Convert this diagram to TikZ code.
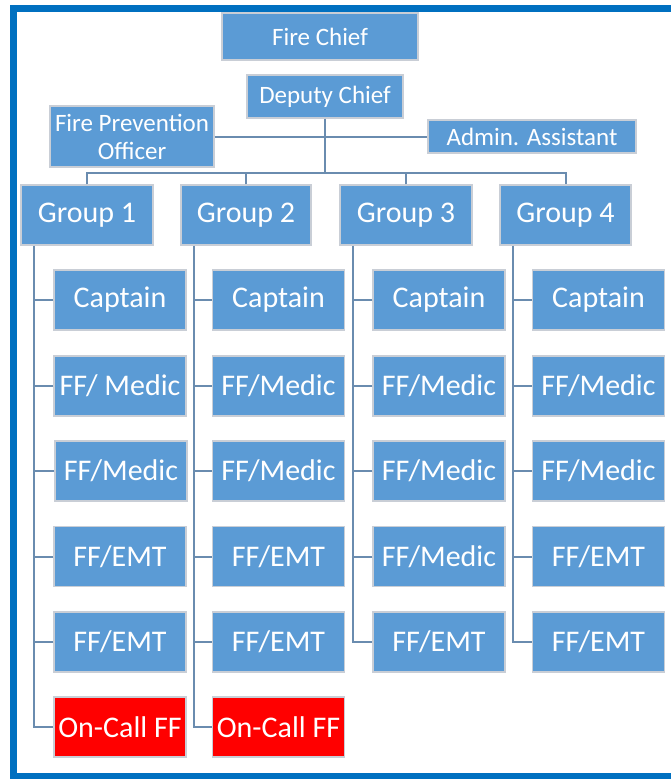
\documentclass[tikz,border=0pt]{standalone}
\usepackage{fontspec}
\setmainfont{Carlito}
\definecolor{boxblue}{HTML}{5B9BD5}
\definecolor{framblue}{HTML}{0070C0}
\definecolor{linecol}{HTML}{6A8CAF}
\definecolor{boxedge}{HTML}{C9CED6}
\begin{document}
\begin{tikzpicture}[x=1pt,y=-1pt,
  orgbox/.style={rectangle,fill=boxblue,draw=boxedge,line width=1.2pt,text=white,inner sep=0pt,align=center},
  topbox/.style={orgbox,font=\fontsize{25}{28}\selectfont},
  grpbox/.style={orgbox,minimum height=60pt,font=\fontsize{30}{32}\selectfont},
  subbox/.style={orgbox,minimum width=132pt,minimum height=60pt,font=\fontsize{30}{32}\selectfont},
  redbox/.style={subbox,fill=red},
  conn/.style={draw=linecol,line width=2pt}]
\useasboundingbox (0,0) rectangle (671,779);
\fill[white] (0,0) rectangle (671,779);
% frame
\draw[framblue,line width=7pt] (671,8) -- (13,8) -- (13,776) -- (671,776);
% top
\node[topbox,minimum width=196pt,minimum height=47pt] (chief) at (320,36.5) {Fire Chief};
\node[topbox,minimum width=156pt,minimum height=43pt] (dep) at (325,96.5) {Deputy Chief};
\node[topbox,minimum width=164pt,minimum height=61pt] (fpo) at (132,136.5) {Fire Prevention\\Officer};
\node[topbox,minimum width=208pt,minimum height=33pt] (aa) at (532,136.5) {Admin. Assistant};
% groups
\node[grpbox,minimum width=132pt] (g1) at (87,215) {Group 1};
\node[grpbox,minimum width=130pt] (g2) at (246,215) {Group 2};
\node[grpbox,minimum width=132pt] (g3) at (406,215) {Group 3};
\node[grpbox,minimum width=131pt] (g4) at (565.5,215) {Group 4};
% column 1
\node[subbox] (a1) at (120,300) {Captain};
\node[subbox] (a2) at (120,386) {FF/ Medic};
\node[subbox] (a3) at (121,471) {FF/Medic};
\node[subbox] (a4) at (120,556.5) {FF/EMT};
\node[subbox] (a5) at (120,642) {FF/EMT};
\node[redbox] (a6) at (120,727) {On-Call FF};
% column 2
\node[subbox] (b1) at (278.5,300) {Captain};
\node[subbox] (b2) at (278.5,386) {FF/Medic};
\node[subbox] (b3) at (278.5,471) {FF/Medic};
\node[subbox] (b4) at (278.5,556.5) {FF/EMT};
\node[subbox] (b5) at (278.5,642) {FF/EMT};
\node[redbox] (b6) at (278.5,727) {On-Call FF};
% column 3
\node[subbox] (c1) at (439,300) {Captain};
\node[subbox] (c2) at (439,386) {FF/Medic};
\node[subbox] (c3) at (439,471) {FF/Medic};
\node[subbox] (c4) at (439,556.5) {FF/Medic};
\node[subbox] (c5) at (439,642) {FF/EMT};
% column 4
\node[subbox] (d1) at (598.5,300) {Captain};
\node[subbox] (d2) at (598.5,386) {FF/Medic};
\node[subbox] (d3) at (598.5,471) {FF/Medic};
\node[subbox] (d4) at (598.5,556.5) {FF/EMT};
\node[subbox] (d5) at (598.5,642) {FF/EMT};
% coordinates
\coordinate (bus) at (0,173);
\coordinate (v1) at (34,245.6);
\coordinate (v2) at (194,245.6);
\coordinate (v3) at (353,245.6);
\coordinate (v4) at (513,245.6);
% connectors top
\draw[conn] (fpo.east) -- (aa.west);
\draw[conn] (dep.south) -- (dep.south |- bus);
\draw[conn] (g1.north) -- (g1.north |- bus) -- (g4.north |- bus) -- (g4.north);
\draw[conn] (g2.north) -- (g2.north |- bus);
\draw[conn] (g3.north) -- (g3.north |- bus);
% columns
\draw[conn] (v1) |- (a6.west);
\foreach \n in {a1,a2,a3,a4,a5} \draw[conn] (\n.west) -- (\n.west -| v1);
\draw[conn] (v2) |- (b6.west);
\foreach \n in {b1,b2,b3,b4,b5} \draw[conn] (\n.west) -- (\n.west -| v2);
\draw[conn] (v3) |- (c5.west);
\foreach \n in {c1,c2,c3,c4} \draw[conn] (\n.west) -- (\n.west -| v3);
\draw[conn] (v4) |- (d5.west);
\foreach \n in {d1,d2,d3,d4} \draw[conn] (\n.west) -- (\n.west -| v4);
\end{tikzpicture}
\end{document}
